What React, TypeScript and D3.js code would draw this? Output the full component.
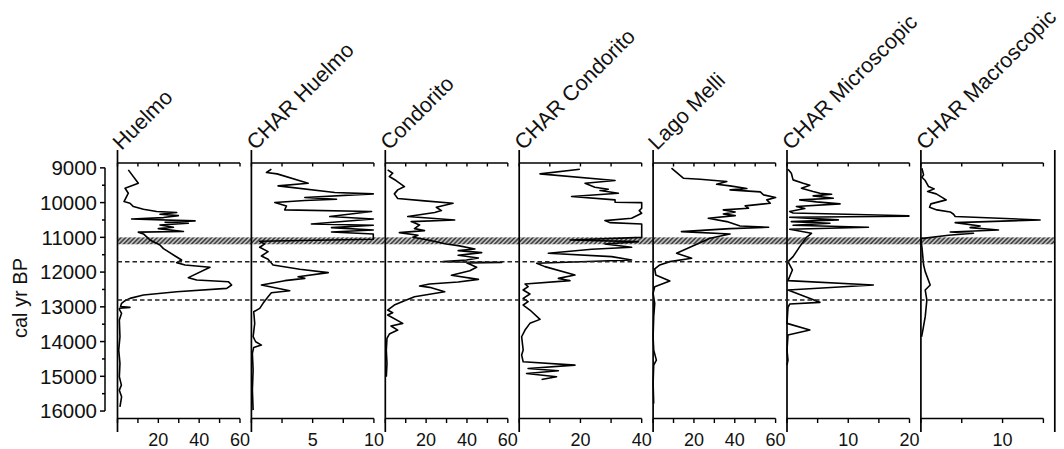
import React from 'react';
import * as d3 from 'd3';

const titles = ["Huelmo", "CHAR Huelmo", "Condorito", "CHAR Condorito", "Lago Melli", "CHAR Microscopic", "CHAR Macroscopic"];
const xMax = [60, 10, 60, 40, 60, 20, 15];
const tickStep = [10, 2.5, 10, 10, 10, 5, 5];
const tickLabels = [[20, 40, 60], [5, 10], [20, 40, 60], [20, 40], [20, 40, 60], [10, 20], [10]];
const yTicks = [9000, 10000, 11000, 12000, 13000, 14000, 15000, 16000];
const yMinor = [9500, 10500, 11500, 12500, 13500, 14500, 15500];
const bandAges = [11000, 11200];
const dashedAges = [11700, 12800];

// [cal yr BP, value]
const huelmo: [number, number][] = [
  [9058, 5.3], [9442, 10.2], [9586, 3.7], [9730, 5.3], [9970, 3.2], [10018, 6.1], [10114, 7.8], [10191, 12.7],
  [10258, 19.2], [10287, 29.0], [10335, 20.8], [10374, 29.8], [10431, 22.5], [10470, 6.9], [10527, 38.0],
  [10566, 23.3], [10595, 34.7], [10643, 20.8], [10710, 27.4], [10748, 20.0], [10830, 32.3], [10850, 10.2],
  [10902, 12.7], [11075, 15.9], [11219, 20.8], [11325, 22.5], [11536, 28.2], [11651, 31.4], [11728, 29.0],
  [11795, 33.1], [11862, 45.3], [12160, 34.7], [12228, 38.8], [12276, 54.3], [12372, 55.9], [12468, 53.5],
  [12564, 29.0], [12660, 12.7], [12756, 6.1], [12823, 3.7], [12900, 2.0], [12990, 1.5], [13015, 6.1],
  [13040, 1.0], [13073, 0.9], [13188, 2.0], [13380, 0.9], [13861, 1.2], [14245, 0.6], [14629, 1.2],
  [15013, 0.9], [15254, 1.9], [15398, 0.9], [15590, 2.0], [15878, 1.2],
];
const charHuelmo: [number, number][] = [
  [9038, 1.63], [9134, 1.23], [9173, 2.10], [9442, 4.63], [9519, 2.18], [9711, 6.81], [9749, 9.95], [9855, 4.36],
  [9903, 6.95], [9941, 4.36], [9999, 1.91], [10095, 2.86], [10210, 2.72], [10258, 9.81], [10402, 6.40],
  [10470, 9.95], [10614, 4.90], [10652, 9.95], [10720, 6.54], [10787, 9.95], [10844, 6.54], [10902, 9.95],
  [11056, 9.95], [11113, 0.68], [11190, 1.09], [11286, 0.68], [11411, 1.36], [11536, 0.82], [11632, 1.36],
  [11795, 1.77], [11920, 3.95], [12016, 6.27], [12132, 3.81], [12180, 4.36], [12247, 2.72], [12372, 0.82],
  [12535, 3.13], [12593, 1.63], [12708, 1.36], [12900, 0.95], [13044, 0.68], [13140, 0.19], [13476, 0.27],
  [13861, 0.14], [14005, 0.35], [14101, 0.82], [14168, 0.19], [14341, 0.08], [14821, 0.14], [15398, 0.08],
  [15974, 0.14],
];
const condorito: [number, number][] = [
  [9058, 1.15], [9154, 3.62], [9250, 1.97], [9365, 5.26], [9538, 9.38], [9634, 6.09], [9749, 4.44], [9884, 6.09],
  [9951, 19.2], [10018, 33.2], [10133, 25.0], [10230, 27.5], [10287, 24.2], [10402, 11.0], [10499, 34.0],
  [10547, 12.7], [10643, 16.8], [10748, 14.3], [10806, 19.2], [10864, 6.9], [10940, 16.0], [10998, 13.5],
  [11075, 20.9], [11190, 29.9], [11238, 35.7], [11334, 43.9], [11382, 35.7], [11440, 47.2], [11517, 35.7],
  [11594, 45.6], [11651, 39.8], [11700, 28.3], [11720, 57.1], [11740, 40.0], [11795, 42.3], [11862, 44.7],
  [11959, 41.4], [12093, 32.4], [12209, 45.6], [12285, 35.7], [12343, 21.7], [12401, 16.8], [12439, 21.7],
  [12564, 29.1], [12708, 14.3], [12823, 9.4], [12948, 4.4], [13092, 1.15], [13169, 3.62], [13236, 1.15],
  [13476, 8.55], [13553, 2.80], [13669, 6.09], [13784, 1.97], [13909, 0.82], [14245, 0.49], [14629, 0.82],
  [15013, 0.49],
];
const charCondorito: [number, number][] = [
  [9038, 19.8], [9173, 6.8], [9365, 31.3], [9442, 21.5], [9557, 24.7], [9615, 29.1], [9653, 26.4], [9730, 32.4],
  [9826, 17.1], [9922, 31.3], [9990, 31.3], [10000, 40.0], [10162, 40.0], [10230, 39.2], [10306, 40.0],
  [10451, 36.7], [10518, 28.0], [10576, 29.6], [10614, 40.0], [11000, 40.0], [11075, 16.6], [11123, 38.9],
  [11190, 28.0], [11286, 36.7], [11344, 23.7], [11459, 9.5], [11555, 30.2], [11651, 36.7], [11747, 5.7],
  [11843, 8.4], [12084, 18.2], [12180, 12.8], [12247, 16.6], [12343, 1.9], [12420, 2.9], [12516, 1.3],
  [12631, 3.5], [12756, 1.3], [12852, 2.9], [12948, 1.3], [13092, 3.5], [13361, 6.8], [13476, 3.5],
  [13669, 1.9], [13861, 0.8], [14245, 1.3], [14389, 0.8], [14581, 1.3], [14677, 18.2], [14773, 2.9],
  [14841, 12.8], [14917, 2.4], [15013, 12.2], [15090, 7.3],
];
const lagoMelli: [number, number][] = [
  [9010, 9.0], [9298, 14.8], [9327, 23.0], [9394, 36.1], [9471, 31.1], [9519, 37.7], [9596, 45.9], [9634, 37.7],
  [9692, 52.5], [9778, 54.1], [9855, 60], [9922, 55.7], [10018, 57.4], [10095, 45.1], [10162, 46.7],
  [10210, 34.4], [10268, 40.2], [10326, 34.4], [10374, 40.2], [10451, 27.0], [10547, 36.1], [10672, 42.6],
  [10710, 56.6], [10748, 37.7], [10835, 13.9], [10902, 37.7], [11027, 27.9], [11219, 20.5], [11459, 11.5],
  [11603, 18.9], [11699, 8.2], [11795, 3.3], [11911, 0.8], [12084, 1.3], [12257, 8.2], [12420, 0.8],
  [12612, 0], [12900, 0.8], [13284, 0.3], [13861, 0], [14245, 0.3], [14533, 1.6], [14677, 0.3], [15206, 0],
  [15782, 0.3],
];
const charMicro: [number, number][] = [
  [9038, 0.16], [9154, 0.71], [9346, 0.99], [9442, 2.63], [9500, 3.73], [9586, 2.36], [9682, 4.27], [9730, 5.37],
  [9759, 7.29], [9807, 4.27], [9874, 7.56], [9922, 2.08], [9980, 4.82], [10037, 8.66], [10114, 1.53],
  [10172, 2.90], [10258, 0.44], [10300, 1.0], [10378, 19.9], [10392, 19.9], [10420, 0.44], [10498, 8.38],
  [10547, 0.71], [10595, 7.01], [10652, 0.99], [10710, 13.3], [10768, 0.44], [10883, 4.0], [10998, 3.18],
  [11267, 2.08], [11555, 0.99], [11699, 0.16], [11939, 0.88], [12247, 0.16], [12372, 14.1], [12516, 0.16],
  [12871, 5.37], [12919, 0.44], [13015, 0.16], [13476, 0], [13669, 3.73], [13813, 0.16], [14245, 0],
  [14533, 0.16], [14677, 0],
];
const charMacro: [number, number][] = [
  [9010, 0.12], [9202, 0.33], [9269, 0.12], [9365, 0.53], [9538, 0.94], [9605, 1.63], [9682, 0.82], [9749, 1.88],
  [9922, 3.10], [10037, 1.22], [10133, 1.06], [10210, 1.96], [10268, 3.59], [10335, 4.0], [10402, 4.2],
  [10499, 14.6], [10576, 4.2], [10672, 7.26], [10719, 6.03], [10787, 9.5], [10844, 3.59], [10883, 6.44],
  [10940, 3.38], [11036, 0], [11363, 0.16], [11795, 0.33], [11987, 0.53], [12372, 1.14], [12516, 0.53],
  [12804, 0.73], [13284, 0.53], [13669, 0.24], [13861, 0.08],
];
const seriesList = [huelmo, charHuelmo, condorito, charCondorito, lagoMelli, charMicro, charMacro];

const W = 1064;
const H = 449;
const FONT = "'Liberation Sans', Arial, Helvetica, sans-serif";
const panel0 = 117.5;
const panelStep = 133.9;
const panelW = 122.5;
const topY = 163;
const botY = 418.5;
const lineTop = 150;
const lineBot = 432;
const yAxisX = 105;
const bandX0 = panel0;
const bandX1 = panel0 + 7 * panelStep;

export default function App() {
  const y = d3.scaleLinear().domain([8860, 16200]).range([topY, botY - 0.5]);
  return (
    <svg width={W} height={H} style={{ position: 'absolute', left: 0, top: 0, background: '#fff' }} fontFamily={FONT}>
      <defs>
        <pattern id="hatch" width="3.2" height="3.2" patternUnits="userSpaceOnUse" patternTransform="rotate(45)">
          <rect width="3.2" height="3.2" fill="#bdbdbd" />
          <line x1="0.8" y1="0" x2="0.8" y2="3.2" stroke="#333" strokeWidth="1.4" />
        </pattern>
      </defs>
      <rect x={0} y={0} width={W} height={H} fill="#fff" />
      <rect x={bandX0} y={y(bandAges[0])} width={bandX1 - bandX0} height={y(bandAges[1]) - y(bandAges[0])} fill="url(#hatch)" />
      <g stroke="#000" strokeWidth={1.5}>
        <line x1={yAxisX} x2={yAxisX} y1={y(9000)} y2={y(16000)} />
        {yTicks.map(t => <line key={t} x1={yAxisX - 5} x2={yAxisX} y1={y(t)} y2={y(t)} />)}
        {yMinor.map(t => <line key={t} x1={yAxisX - 3} x2={yAxisX} y1={y(t)} y2={y(t)} />)}
      </g>
      {yTicks.map(t => (
        <text key={t} x={97} y={y(t)} dy="0.36em" textAnchor="end" fontSize={20.5} fill="#111">{t}</text>
      ))}
      <text transform={`translate(27,298) rotate(-90)`} textAnchor="middle" fontSize={20} fill="#111">cal yr BP</text>
      {seriesList.map((data, i) => {
        const left = panel0 + i * panelStep;
        const x = d3.scaleLinear().domain([0, xMax[i]]).range([left, left + panelW]);
        const ticks = d3.range(0, xMax[i] + 1e-9, tickStep[i]);
        const line = d3.line<[number, number]>().x(d => x(Math.min(d[1], xMax[i]))).y(d => y(d[0]));
        return (
          <g key={i}>
            <path d={line(data) || ''} fill="none" stroke="#000" strokeWidth={1.6} strokeLinejoin="round" />
            <g stroke="#000" strokeWidth={1.4}>
              <line x1={left} x2={left} y1={lineTop} y2={lineBot} strokeWidth={1.7} />
              <line x1={left} x2={left + panelW} y1={topY} y2={topY} />
              <line x1={left} x2={left + panelW} y1={botY} y2={botY} />
              {ticks.map(t => <line key={'t' + t} x1={x(t)} x2={x(t)} y1={topY} y2={topY + 3.5} />)}
              {ticks.map(t => <line key={'b' + t} x1={x(t)} x2={x(t)} y1={botY} y2={botY + 4.5} />)}
            </g>
            {tickLabels[i].map(t => (
              <text key={t} x={x(t)} y={446} textAnchor="middle" fontSize={18} fill="#111">{t}</text>
            ))}
            <text transform={`translate(${left + 4},151) rotate(-45)`} fontSize={21.5} fill="#111">{titles[i]}</text>
          </g>
        );
      })}
      <line x1={bandX1} x2={bandX1} y1={lineTop} y2={lineBot} stroke="#000" strokeWidth={1.7} />
      {dashedAges.map(a => (
        <line key={a} x1={panel0} x2={bandX1} y1={y(a)} y2={y(a)} stroke="#222" strokeWidth={1.5} strokeDasharray="4.5,3" />
      ))}
    </svg>
  );
}
